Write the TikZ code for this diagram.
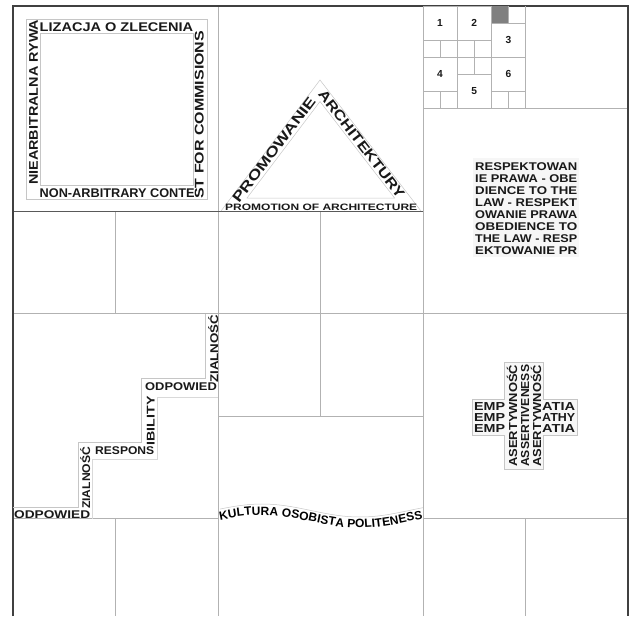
\documentclass[tikz,border=0pt]{standalone}
\usepackage{fontspec}
\setmainfont{Liberation Sans}
\usepackage{graphicx}
\usepackage{xcolor}
\usetikzlibrary{decorations.text}

\newcommand{\widen}[2]{\resizebox{#1pt}{\height}{#2}}
\newcommand{\wavefont}{\bfseries\fontsize{12}{14}\selectfont}

\begin{document}
\begin{tikzpicture}[x=1pt, y=-1pt,
    cellline/.style={draw=gray!60, line width=0.6pt},
    darkline/.style={draw=black!65, line width=0.8pt},
    frameline/.style={draw=black!75, line width=1.3pt},
    guide/.style={draw=gray!45, line width=0.5pt},
    bigword/.style={inner sep=0pt, anchor=base west, text=black!90, font=\bfseries\fontsize{12.6}{14}\selectfont},
    roofword/.style={bigword, font=\bfseries\fontsize{14}{16}\selectfont},
    smallword/.style={bigword, font=\bfseries\fontsize{9.3}{11}\selectfont},
    lawword/.style={bigword, font=\bfseries\fontsize{11.2}{12}\selectfont},
    stairword/.style={bigword, font=\bfseries\fontsize{11.2}{12}\selectfont},
    crossword/.style={bigword, font=\bfseries\fontsize{11.6}{12}\selectfont},
    numlbl/.style={inner sep=0pt, text=black!90, font=\bfseries\fontsize{10.2}{12}\selectfont}
]
\useasboundingbox (0,0) rectangle (629,616);

% main grid
\draw[cellline] (218,6) -- (218,616) (423,6) -- (423,616);
\draw[cellline] (423,108.5) -- (628,108.5);
\draw[cellline] (13,313.5) -- (628,313.5);
\draw[cellline] (218,416) -- (423,416);
\draw[cellline] (13,518.5) -- (218,518.5) (423,518.5) -- (628,518.5);
\draw[cellline] (115.5,211) -- (115.5,313.5) (115.5,518.5) -- (115.5,616);
\draw[cellline] (320.5,211) -- (320.5,416);
\draw[cellline] (525.5,518.5) -- (525.5,616);
\draw[darkline] (13,211) -- (423,211);
\draw[frameline] (13,616) -- (13,6) -- (628,6) -- (628,616);

% square
\draw[guide] (26,19) rectangle (207,199);
\draw[guide] (40,33) rectangle (193,185);
\node[bigword] (rivaltop) at (39.5,31.5) {\widen{153.5}{LIZACJA O ZLECENIA}};
\node[bigword, rotate=90] (rivalside) at (37.8,185) {\widen{165}{NIEARBITRALNA RYWA}};
\node[bigword] (contestlow) at (39.5,197.6) {\widen{155}{NON-ARBITRARY CONTE}};
\node[bigword, rotate=90] (contestside) at (203.5,199) {\widen{168}{ST FOR COMMISIONS}};

% triangle
\draw[guide] (221,211) -- (320,80) -- (421,211);
\draw[guide] (247,198) -- (320,101.5) -- (394.6,198) -- cycle;
\node[roofword, rotate=52.9] (roofleft) at (239,204) {\widen{128}{PROMOWANIE}};
\node[roofword, rotate=-52.4] (roofright) at (317.4,94.6) {\widen{132}{ARCHITEKTURY}};
\node[smallword] (roofbase) at (225,210.2) {\widen{192}{PROMOTION OF ARCHITECTURE}};

% numbered boxes
\foreach \k in {1,...,5} {
    \draw[cellline] (423+17.08*\k,6) -- (423+17.08*\k,108.5);
    \draw[cellline] (423,6+17.08*\k) -- (525.5,6+17.08*\k);
}
\draw[cellline] (525.5,6) -- (525.5,108.5);
\fill[black!50] (491.3,6) rectangle (508.4,23.1);
\foreach \bx/\by/\n in {0/0/1, 2/0/2, 4/1/3, 0/3/4, 2/4/5, 4/3/6} {
    \draw[cellline, fill=white] (423+17.08*\bx,6+17.08*\by) rectangle ++(34.17,34.17);
    \node[numlbl] (box\n) at (440.08+17.08*\bx,23.08+17.08*\by) {\n};
}

% law block
\fill[gray!7] (473,158) rectangle (579,257);
\foreach \t [count=\i] in {RESPEKTOWAN, IE PRAWA - OBE, DIENCE TO THE, LAW - RESPEKT,
    OWANIE PRAWA, OBEDIENCE TO, THE LAW - RESP, EKTOWANIE PR}
    \node[lawword] (law\i) at (475,158+12*\i) {\widen{102}{\t}};

% stairs
\draw[guide] (13,507.3) -- (78.3,507.3) -- (78.3,442.7) -- (141.7,442.7)
    -- (141.7,378.3) -- (205.7,378.3) -- (205.7,313.5);
\draw[guide, draw=gray!30] (92,518.5) -- (92,459) -- (157,459) -- (157,397) -- (218,397);
\node[stairword] (stairA) at (14,518) {\widen{76}{ODPOWIED}};
\node[stairword, rotate=90] (stairB) at (90,509) {\widen{62}{ZIALNOŚĆ}};
\node[stairword] (stairC) at (95,454) {\widen{59}{RESPONS}};
\node[stairword, rotate=90] (stairD) at (154.5,445.7) {\widen{49}{IBILITY}};
\node[stairword] (stairE) at (145,390.7) {\widen{71.7}{ODPOWIED}};
\node[stairword, rotate=90] (stairF) at (218,383) {\widen{68}{ZIALNOŚĆ}};

% cross
\draw[guide, fill=gray!6] (504,362) -- (543,362) -- (543,399) -- (577,399) -- (577,435)
    -- (543,435) -- (543,469) -- (504,469) -- (504,435) -- (472,435) -- (472,399)
    -- (504,399) -- cycle;
\node[crossword] (empA) at (474,410) {\widen{31}{EMP}};
\node[crossword] (empB) at (474,421) {\widen{31}{EMP}};
\node[crossword] (empC) at (474,432) {\widen{31}{EMP}};
\node[crossword] (atiaA) at (542,410) {\widen{33}{ATIA}};
\node[crossword] (athyB) at (542,421) {\widen{33}{ATHY}};
\node[crossword] (atiaC) at (542,432) {\widen{33}{ATIA}};
\node[crossword, rotate=90] (asertA) at (517,467) {\widen{102}{ASERTYWNOŚĆ}};
\node[crossword, rotate=90] (assertB) at (529,467) {\widen{102}{ASSERTIVENESS}};
\node[crossword, rotate=90] (asertC) at (541,467) {\widen{102}{ASERTYWNOŚĆ}};

% wave
\begin{scope}[shift={(220,521.5)}]
\draw[guide] plot[domain=0:203, samples=41] (\x, {-11-6.5*sin(1.8367*(\x+7))});
\path[decorate, decoration={text along path, text align=fit to path,
    text={|\wavefont|KULTURA OSOBISTA POLITENESS}}]
    plot[domain=0:203, samples=41] (\x, {-6.5*sin(1.8367*(\x+7))});
\end{scope}
\end{tikzpicture}
\end{document}
